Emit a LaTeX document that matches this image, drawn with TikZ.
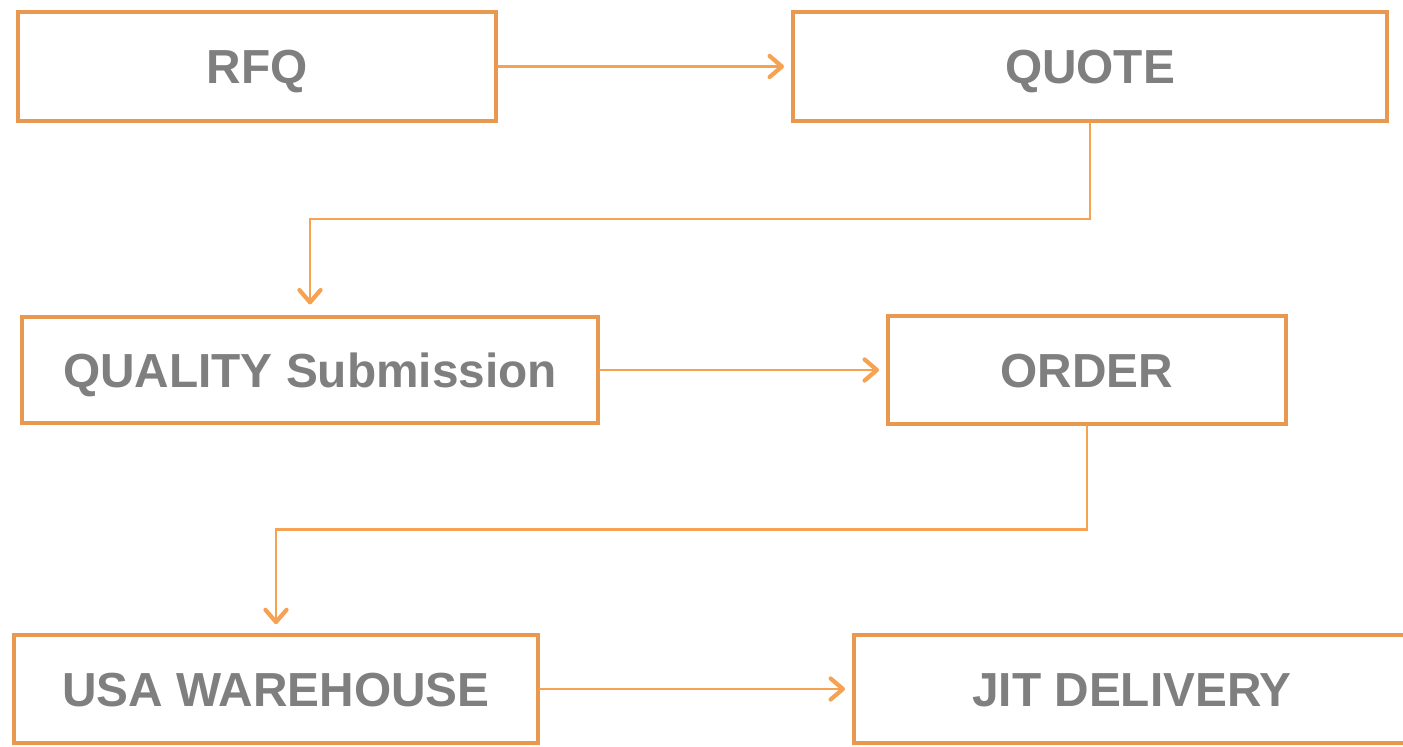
\documentclass[tikz,border=0pt]{standalone}
\usepackage{fontspec}
\setmainfont{Liberation Sans}
\usetikzlibrary{arrows.meta, positioning, calc}
\definecolor{CBorder}{HTML}{E9994F}
\definecolor{CArrow}{HTML}{F5A352}
\definecolor{CText}{HTML}{7F7F7F}

\begin{document}
\begin{tikzpicture}[
    x=0.02cm, y=-0.02cm,
    % Reusable styles for boxes and connectors
    step box/.style={draw=CBorder, line width=2.3pt, fill=white, inner sep=0pt,
        minimum height=2.16cm, text=CText, text height=19.5pt, text depth=0pt,
        font=\fontsize{27.2}{32}\selectfont\bfseries},
    flow/.style={draw=CArrow, line width=1.4pt, line cap=round,
        -{Straight Barb[length=7pt, width=12pt, line width=2.4pt, line cap=round, line join=round]},
        shorten >=4pt}
]

    % Canvas (fixes the page size to the reference)
    \useasboundingbox (0,0) rectangle (1403,747);

    % -------------------------
    % Row 1: request and quote
    % -------------------------
    \node[step box, minimum width=9.56cm, minimum height=2.18cm] (RFQ) at (257,66.5) {RFQ};
    \node[step box, minimum width=11.88cm, minimum height=2.18cm] (QUOTE) at (1090,66.5) {QUOTE};

    % -------------------------
    % Row 2: quality and order
    % -------------------------
    \node[step box, minimum width=11.52cm, minimum height=2.12cm] (QUALITY) at (310,370) {QUALITY Submission};
    \node[step box, minimum width=7.96cm] (ORDER) at (1087,370) {ORDER};

    % -------------------------
    % Row 3: stock and delivery
    % -------------------------
    \node[step box, minimum width=10.48cm] (USA) at (276,689) {USA WAREHOUSE};
    \node[step box, minimum width=11.12cm] (JIT) at (1132,689) {JIT DELIVERY};

    % Connectors (straight within a row, elbowed between rows)
    \draw[flow] (RFQ.east) -- (QUOTE.west);
    \draw[flow, shorten >=6pt] (QUOTE.south) |- ($(QUOTE.south)!0.5!(QUALITY.north)$) -| (QUALITY.north);
    \draw[flow] (QUALITY.east) -- (ORDER.west);
    \draw[flow, shorten >=5pt] (ORDER.south) |- ($(ORDER.south)!0.5!(USA.north)$) -| (USA.north);
    \draw[flow] (USA.east) -- (JIT.west);

\end{tikzpicture}
\end{document}
